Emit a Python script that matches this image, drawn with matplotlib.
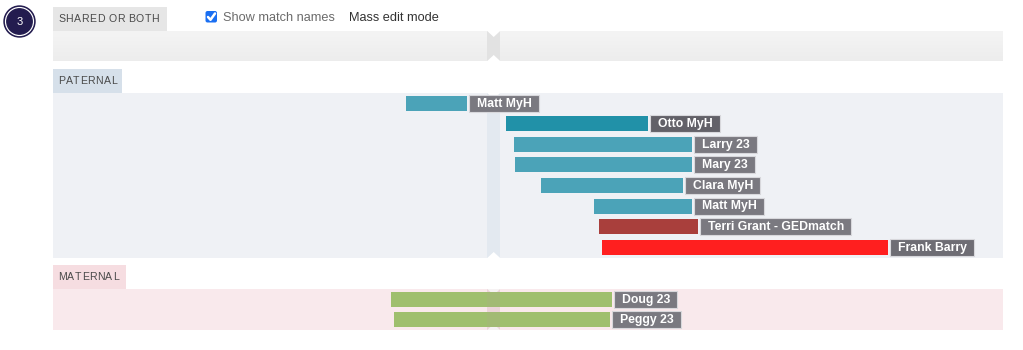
import numpy as np
import matplotlib
matplotlib.use("Agg")
import matplotlib.pyplot as plt
from matplotlib.patches import Rectangle, Polygon, Circle, FancyBboxPatch
from matplotlib.font_manager import FontProperties, findfont, get_font

W, H = 1023, 350

# chromosome 3, positions in Mb
chrom_len = 198.0
centromere = (90.5, 93.2)

pat_names = ["Matt MyH", "Otto MyH", "Larry 23", "Mary 23", "Clara MyH",
             "Matt MyH", "Terri Grant - GEDmatch", "Frank Barry"]
pat_start = [73.6, 94.4, 96.1, 96.3, 101.7, 112.8, 113.8, 114.4]
pat_end = [86.3, 124.0, 133.2, 133.2, 131.3, 133.2, 134.4, 174.0]
pat_colors = ["#4ba3b8", "#2191a8", "#4ba3b8", "#4ba3b8", "#4ba3b8",
              "#4ba3b8", "#a93f3c", "#ff1f1f"]
pat_label_colors = ["#7a7980", "#626168", "#7a7980", "#7a7980", "#7a7980",
                    "#7a7980", "#7a7980", "#6e6d74"]

mat_names = ["Doug 23", "Peggy 23"]
mat_start = [70.4, 71.1]
mat_end = [116.5, 116.1]
mat_colors = ["#9fbf6e", "#9fbf6e"]

PX0, PX1 = 53, 1003
PXMB = (PX1 - PX0) / chrom_len

fig = plt.figure(figsize=(W / 100, H / 100), dpi=100)
bg = fig.add_axes([0, 0, 1, 1])
bg.set_xlim(0, W)
bg.set_ylim(H, 0)
bg.axis("off")

ax = fig.add_axes([PX0 / W, 0, (PX1 - PX0) / W, 1], zorder=2)
ax.set_xlim(0, chrom_len)
ax.set_ylim(H, 0)
ax.axis("off")
ax.patch.set_alpha(0)

r = fig.canvas.get_renderer()


def spaced(a, x, y, s, gap, size, family, **kw):
    # letter spacing using glyph advances
    font = get_font(findfont(FontProperties(family=family)))
    font.set_size(size, 100)
    for ch in s:
        a.text(x, y, ch, va="baseline", ha="left", fontsize=size,
               family=family, **kw)
        g = font.load_char(ord(ch))
        x += g.linearHoriAdvance / 65536 + gap


# header
bg.add_patch(Circle((19.5, 21.5), 15.5, color="#231c4f"))
bg.add_patch(Circle((19.5, 21.5), 13.9, color="white"))
bg.add_patch(Circle((19.5, 21.5), 12.7, color="#231c4f"))
bg.text(19.5, 22, "3", color="white", ha="center", va="center",
        fontsize=8, family="Liberation Sans")

tabs = [("SHARED OR BOTH", 53, 167, 7, 31, "#e6e6e6"),
        ("PATERNAL", 53, 122, 69, 93, "#d6e0ea"),
        ("MATERNAL", 53, 126, 265, 289, "#f6dde1")]
for label, x0, x1, y0, y1, c in tabs:
    bg.add_patch(Rectangle((x0, y0), x1 - x0, y1 - y0, color=c, lw=0))
    spaced(bg, x0 + 5, y0 + 14.5, label, 0.5, 7.6, "Liberation Sans",
           color="#4a4a4a")

bg.add_patch(FancyBboxPatch((205.5, 11), 11.5, 11.5,
                            boxstyle="round,pad=0,rounding_size=2",
                            color="#1a6ff2", lw=0))
bg.plot([208, 210.5, 215], [17, 19.8, 13.5], color="white", lw=1.8,
        solid_capstyle="round")
bg.text(223, 18, "Show match names", color="#6b6b6b", fontsize=9.2,
        va="center", family="Liberation Sans")
bg.text(349, 18, "Mass edit mode", color="#333333", fontsize=9.2,
        va="center", family="Liberation Sans")

# panels
grad = np.linspace(0.955, 0.925, 30)[:, None]
bg.imshow(grad, extent=(PX0, PX1, 61, 31), cmap="gray", vmin=0, vmax=1,
          aspect="auto", zorder=0.5)
bg.add_patch(Rectangle((PX0, 93), PX1 - PX0, 165, color="#eff1f5", lw=0))
bg.add_patch(Rectangle((PX0, 289), PX1 - PX0, 41, color="#f9e9ec", lw=0))
bg.set_xlim(0, W)
bg.set_ylim(H, 0)

c0, c1 = centromere
cm = (c0 + c1) / 2
notch = [(31, 61, "#e2e2e2"), (93, 258, "#e3e9f0"), (289, 330, "#f4dde2")]
for y0, y1, c in notch:
    ax.add_patch(Rectangle((c0, y0), c1 - c0, y1 - y0, color=c, lw=0,
                           zorder=1))
    d = 6
    ax.add_patch(Polygon([(c0, y0), (c1, y0), (cm, y0 + d)], color="white",
                         lw=0, zorder=1.1))
    ax.add_patch(Polygon([(c0, y1), (c1, y1), (cm, y1 - d)], color="white",
                         lw=0, zorder=1.1))
# centromere shows faintly through the maternal bars
ax.add_patch(Rectangle((c0, 289), c1 - c0, 41, color="#b89aa0", alpha=0.12,
                       lw=0, zorder=3.5))


def draw_rows(names, start, end, colors, lcolors, y_first, step):
    ys = [y_first + i * step for i in range(len(names))]
    width = np.array(end) - np.array(start)
    ax.barh(ys, width, left=start, height=15, color=colors, zorder=3)
    for name, e, y, lc in zip(names, end, ys, lcolors):
        t = ax.text(e + 10 / PXMB, y + 0.5, name, color="white",
                    fontsize=8.8, fontweight="bold", va="center", ha="left",
                    family="Liberation Sans", zorder=5)
        tw = t.get_window_extent(r).width / PXMB
        bx = e + 2 / PXMB
        ax.add_patch(Rectangle((bx, y - 8.5), tw + 15 / PXMB, 17,
                               facecolor=lc, edgecolor="#d8d8dc", lw=0.8,
                               zorder=4))


draw_rows(pat_names, pat_start, pat_end, pat_colors, pat_label_colors,
          103, 20.6)
draw_rows(mat_names, mat_start, mat_end, mat_colors, ["#7a7980"] * 2,
          299, 20.3)

fig.savefig("out.png", dpi=100)
